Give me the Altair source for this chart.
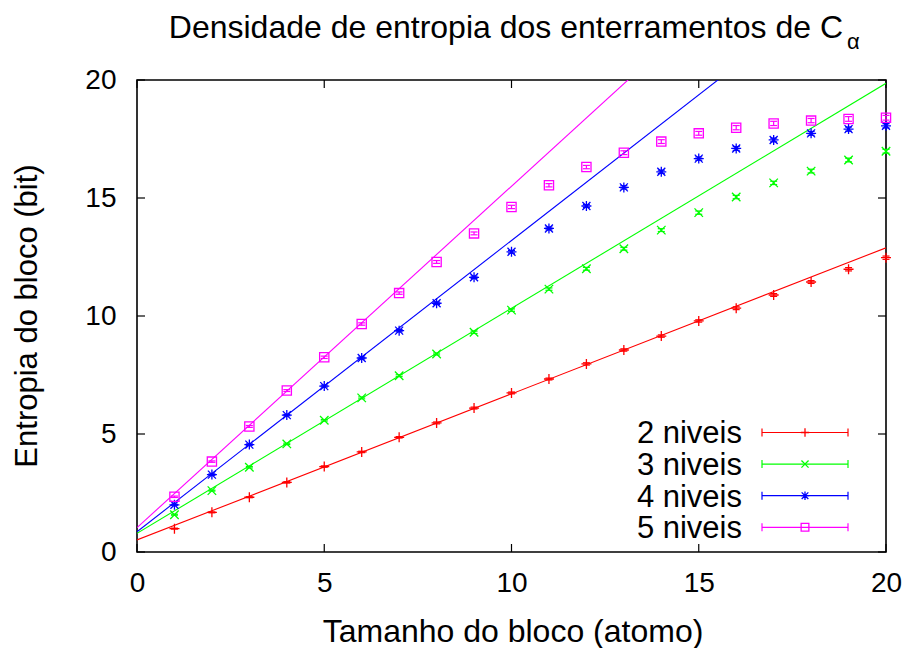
import altair as alt
import pandas as pd

# Block size (atoms)
block_size = list(range(1, 21))

# Mean block entropy (bit) for each alphabet size
entropy_2 = [0.99, 1.68, 2.32, 2.95, 3.62, 4.24, 4.86, 5.47, 6.10, 6.74,
             7.33, 7.97, 8.56, 9.15, 9.79, 10.33, 10.89, 11.44, 11.98, 12.47]
entropy_3 = [1.58, 2.60, 3.59, 4.58, 5.58, 6.53, 7.47, 8.39, 9.31, 10.25,
             11.14, 12.00, 12.85, 13.64, 14.38, 15.04, 15.64, 16.14, 16.61, 16.98]
entropy_4 = [2.00, 3.28, 4.55, 5.80, 7.03, 8.22, 9.38, 10.54, 11.64, 12.72,
             13.71, 14.66, 15.45, 16.11, 16.67, 17.10, 17.46, 17.74, 17.92, 18.06]
entropy_5 = [2.34, 3.83, 5.32, 6.84, 8.25, 9.66, 10.97, 12.29, 13.50, 14.62,
             15.54, 16.31, 16.92, 17.39, 17.74, 17.98, 18.16, 18.28, 18.35, 18.40]

# Standard errors
err_2 = [0.02, 0.02, 0.02, 0.03, 0.03, 0.03, 0.03, 0.04, 0.04, 0.04,
         0.04, 0.05, 0.05, 0.05, 0.05, 0.06, 0.06, 0.06, 0.07, 0.07]
err_3 = [0.02, 0.02, 0.03, 0.03, 0.03, 0.04, 0.04, 0.04, 0.05, 0.05,
         0.05, 0.06, 0.06, 0.06, 0.07, 0.07, 0.07, 0.08, 0.08, 0.08]
err_4 = [0.02, 0.03, 0.03, 0.03, 0.04, 0.04, 0.05, 0.05, 0.05, 0.06,
         0.06, 0.06, 0.07, 0.07, 0.07, 0.08, 0.08, 0.08, 0.09, 0.09]
err_5 = [0.03, 0.03, 0.04, 0.04, 0.05, 0.05, 0.05, 0.06, 0.06, 0.07,
         0.07, 0.07, 0.08, 0.08, 0.08, 0.09, 0.09, 0.09, 0.10, 0.10]

# Linear fits, evaluated at the ends of the x range
fit_x = [0, 20]
fit_2 = [0.51, 12.89]
fit_3 = [0.79, 19.86]
fit_4 = [0.86, 25.54]
fit_5 = [1.03, 29.97]

series_names = ["2 niveis", "3 niveis", "4 niveis", "5 niveis"]
series_colors = ["#ff0000", "#00ff00", "#0000ff", "#ff00ff"]
tick_values = [0, 5, 10, 15, 20]

PLUS = "M-1,0L1,0M0,-1L0,1"
CROSS = "M-1,-1L1,1M-1,1L1,-1"
STAR = "M-1,0L1,0M0,-1L0,1M-0.8,-0.8L0.8,0.8M-0.8,0.8L0.8,-0.8"
SQUARE = "M-1,-1L1,-1L1,1L-1,1Z"
CAP = "M-1,0L1,0"
series_shapes = [(PLUS, 100), (CROSS, 72), (STAR, 100), (SQUARE, 85)]

W, H = 749, 472
FONT = "Liberation Sans"

x_axis = alt.Axis(values=tick_values, ticks=False, tickSize=0, domain=False,
                  grid=False, title=None, labelFontSize=28, labelFont=FONT,
                  labelColor="black", labelPadding=17, labelFlush=False)
y_axis = alt.Axis(values=tick_values, ticks=False, tickSize=0, domain=False,
                  grid=False, title=None, labelFontSize=28, labelFont=FONT,
                  labelColor="black", labelPadding=21, labelFlush=False)
x_scale = alt.Scale(domain=[0, 20], nice=False, zero=False)
y_scale = alt.Scale(domain=[0, 20], nice=False, zero=False)


def X(field):
    return alt.X(f"{field}:Q", scale=x_scale, axis=x_axis)


def Y(field):
    return alt.Y(f"{field}:Q", scale=y_scale, axis=y_axis)


layers = []

# Inward tick marks on all four sides
ticks_df = pd.DataFrame({"t": tick_values})
tk = alt.Chart(ticks_df)
layers += [
    tk.mark_rule(color="black", strokeWidth=1.2).encode(x=X("t"), y=alt.value(H), y2=alt.value(H - 8)),
    tk.mark_rule(color="black", strokeWidth=1.2).encode(x=X("t"), y=alt.value(0), y2=alt.value(8)),
    tk.mark_rule(color="black", strokeWidth=1.2).encode(y=Y("t"), x=alt.value(0), x2=alt.value(8)),
    tk.mark_rule(color="black", strokeWidth=1.2).encode(y=Y("t"), x=alt.value(W), x2=alt.value(W - 8)),
]

entropies = [entropy_2, entropy_3, entropy_4, entropy_5]
errors = [err_2, err_3, err_4, err_5]
fits = [fit_2, fit_3, fit_4, fit_5]

for name, color, (shape, size), ent, err, fit in zip(
        series_names, series_colors, series_shapes, entropies, errors, fits):
    fit_df = pd.DataFrame({"x": fit_x, "y": fit})
    layers.append(
        alt.Chart(fit_df).mark_line(color=color, strokeWidth=1.1, clip=True)
        .encode(x=X("x"), y=Y("y"))
    )
    pts = pd.DataFrame({
        "x": block_size,
        "y": ent,
        "lo": [v - e for v, e in zip(ent, err)],
        "hi": [v + e for v, e in zip(ent, err)],
    })
    base = alt.Chart(pts)
    layers.append(base.mark_rule(color=color, strokeWidth=1.2)
                  .encode(x=X("x"), y=Y("lo"), y2="hi"))
    layers.append(base.mark_point(shape=CAP, size=49, filled=False, color=color,
                                  strokeWidth=1.2, opacity=1)
                  .encode(x=X("x"), y=Y("lo")))
    layers.append(base.mark_point(shape=CAP, size=49, filled=False, color=color,
                                  strokeWidth=1.2, opacity=1)
                  .encode(x=X("x"), y=Y("hi")))
    layers.append(base.mark_point(shape=shape, size=size, filled=False, color=color,
                                  strokeWidth=1.3, opacity=1)
                  .encode(x=X("x"), y=Y("y")))

# Key, bottom right inside the plot
anchor = pd.DataFrame({"k": [0]})
key = alt.Chart(anchor)
row_y = [352.5, 384.1, 415.7, 447.3]
for name, color, (shape, size), ry in zip(series_names, series_colors, series_shapes, row_y):
    layers += [
        key.mark_text(align="right", baseline="alphabetic", font=FONT, fontSize=31,
                      color="black", text=name)
        .encode(x=alt.value(605), y=alt.value(ry + 10.8)),
        key.mark_rule(color=color, strokeWidth=1.2)
        .encode(x=alt.value(625), x2=alt.value(711), y=alt.value(ry)),
        key.mark_rule(color=color, strokeWidth=1.2)
        .encode(x=alt.value(625), y=alt.value(ry - 4), y2=alt.value(ry + 4)),
        key.mark_rule(color=color, strokeWidth=1.2)
        .encode(x=alt.value(711), y=alt.value(ry - 4), y2=alt.value(ry + 4)),
        key.mark_point(shape=shape, size=size * 0.7, filled=False, color=color,
                       strokeWidth=1.3, opacity=1)
        .encode(x=alt.value(668), y=alt.value(ry)),
    ]

# Titles
layers += [
    key.mark_text(align="right", baseline="alphabetic", font=FONT, fontSize=32,
                  color="black", text="Densidade de entropia dos enterramentos de C")
    .encode(x=alt.value(706), y=alt.value(-42)),
    key.mark_text(align="left", baseline="alphabetic", font=FONT, fontSize=22,
                  color="black", text="α")
    .encode(x=alt.value(710), y=alt.value(-31)),
    key.mark_text(align="center", baseline="alphabetic", font=FONT, fontSize=32,
                  color="black", text="Tamanho do bloco (atomo)")
    .encode(x=alt.value(376), y=alt.value(562)),
    key.mark_text(align="center", baseline="alphabetic", font=FONT, fontSize=31,
                  color="black", angle=270, text="Entropia do bloco (bit)")
    .encode(x=alt.value(-100), y=alt.value(236)),
]

chart = (
    alt.layer(*layers)
    .properties(
        width=W,
        height=H,
        padding={"left": 137, "top": 80, "right": 23, "bottom": 96},
        autosize=alt.AutoSizeParams(type="none"),
        background="white",
    )
    .configure_view(stroke="black", strokeWidth=1.6)
)

chart.save("out.html", embed_options={"renderer": "svg", "actions": False})
